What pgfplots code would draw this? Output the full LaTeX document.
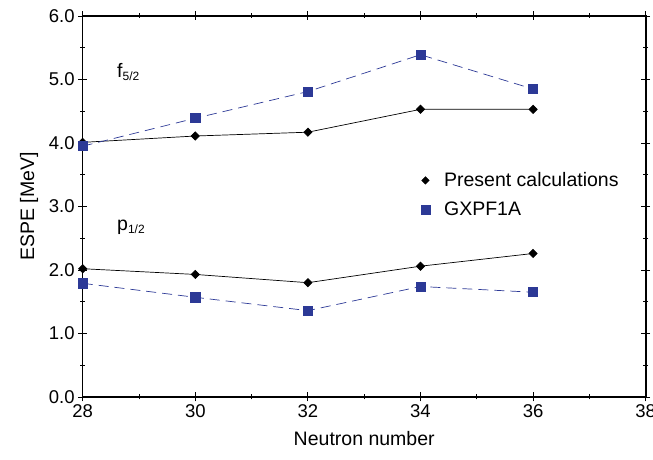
\documentclass[border=0pt]{standalone}
\usepackage{pgfplots}
\pgfplotsset{compat=1.18}
\usepackage{fontspec}
\setmainfont{Liberation Sans}
\definecolor{gxblue}{RGB}{44,57,150}
\newcommand{\chartfont}{\fontsize{18.5}{21}\selectfont}
\newcommand{\labelfont}{\fontsize{19.5}{22}\selectfont}

\begin{document}
\begin{tikzpicture}
\begin{axis}[
  scale only axis, width=563pt, height=381pt,
  at={(0,0)}, anchor=south west,
  xmin=28, xmax=38, ymin=0, ymax=6,
  xtick={28,30,...,38}, minor xtick={29,31,...,37},
  ytick={0,1,...,6}, minor ytick={0.5,1.5,...,5.5},
  tick align=center, major tick length=9pt, minor tick length=5pt,
  every tick/.style={black, line width=0.9pt},
  axis line style={line width=1.6pt},
  yticklabel style={/pgf/number format/.cd, fixed, fixed zerofill, precision=1},
  /pgf/number format/assume math mode=true,
  tick label style={font=\chartfont},
  label style={font=\labelfont},
  xlabel={Neutron number}, ylabel={ESPE [MeV]},
  xlabel style={yshift=-6pt}, ylabel style={yshift=4pt},
  legend style={draw=none, fill=none, at={(0.595,0.60)}, anchor=north west,
    font=\labelfont, row sep=10pt,
    /tikz/every odd column/.append style={column sep=12pt}},
  legend cell align=left,
  clip=false,
]
\addlegendimage{only marks, mark=square*, mark size=2.7pt, mark options={rotate=45}, black}
\addlegendentry{Present calculations}
\addlegendimage{only marks, mark=square*, mark size=4.6pt, gxblue}
\addlegendentry{GXPF1A}

% f5/2
\addplot[forget plot, black, line width=0.7pt, mark=square*, mark size=2.9pt, mark options={rotate=45}] coordinates {
  (28,4.01) (30,4.11) (32,4.17) (34,4.53) (36,4.53)};
\addplot[forget plot, gxblue, line width=0.7pt, dash pattern=on 10pt off 6pt,
  mark=square*, mark size=4.6pt, mark options={solid}] coordinates {
  (28,3.95) (30,4.39) (32,4.81) (34,5.39) (36,4.85)};
% p1/2
\addplot[forget plot, black, line width=0.7pt, mark=square*, mark size=2.9pt, mark options={rotate=45}] coordinates {
  (28,2.02) (30,1.93) (32,1.80) (34,2.06) (36,2.26)};
\addplot[forget plot, gxblue, line width=0.7pt, dash pattern=on 10pt off 6pt,
  mark=square*, mark size=4.6pt, mark options={solid}] coordinates {
  (28,1.79) (30,1.57) (32,1.36) (34,1.74) (36,1.65)};

\node[anchor=west, font=\labelfont] at (axis cs:28.55,5.12) {f\textsubscript{\fontsize{12}{14}\selectfont 5/2}};
\node[anchor=west, font=\labelfont] at (axis cs:28.55,2.68) {p\textsubscript{\fontsize{12}{14}\selectfont 1/2}};
\end{axis}
\pgfresetboundingbox
\path (-82.7pt,-62.3pt) rectangle (570.3pt,397pt);
\end{tikzpicture}
\end{document}
